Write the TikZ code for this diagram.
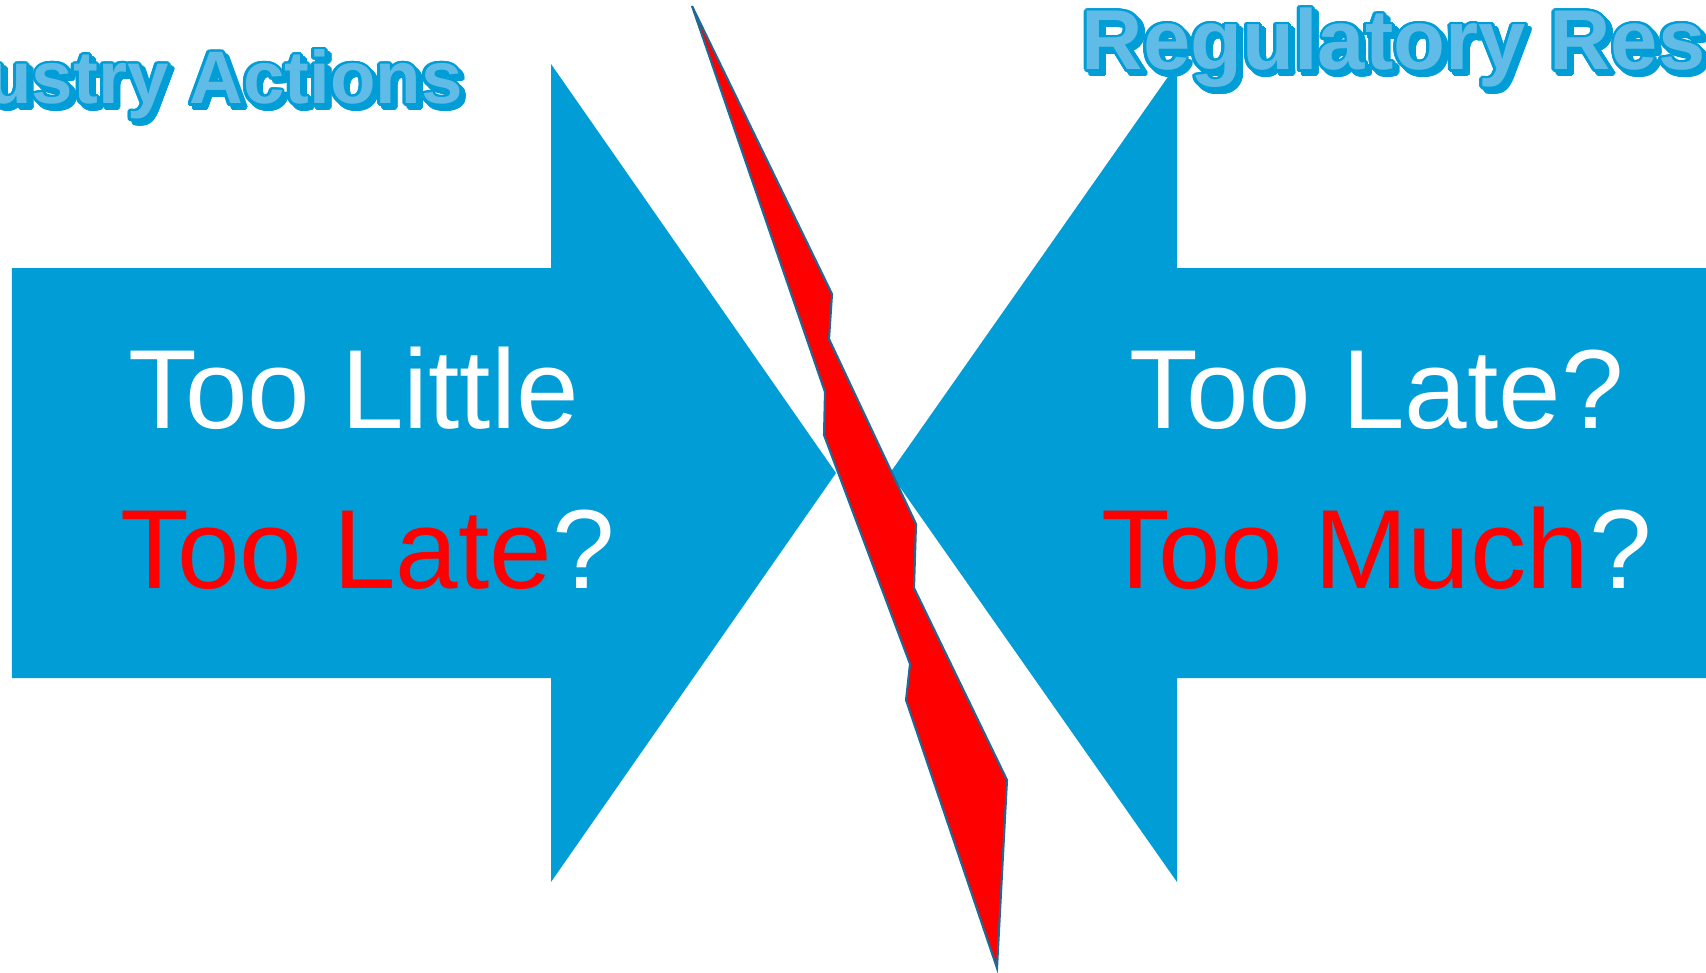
\documentclass[tikz,border=0pt]{standalone}
\usepackage{fontspec}
\setmainfont{Liberation Sans}
\usepackage{contour}
\contourlength{0.8pt}
\contournumber{24}

\definecolor{arrowblue}{RGB}{0,157,214}
\definecolor{titlefill}{RGB}{96,188,230}
\definecolor{boltedge}{RGB}{31,105,150}

\begin{document}
\begin{tikzpicture}[
  arrowshape/.style={fill=arrowblue,draw=none},
  bolt/.style={fill=red,draw=boltedge,line width=0.6pt,line join=miter},
  txt/.style={anchor=base west,inner sep=0pt,text=white,
              font=\fontsize{32}{38}\selectfont},
  ttl/.style={anchor=base west,inner sep=0pt,text=titlefill},
  shadow/.style={anchor=base west,inner sep=0pt,text=arrowblue},
]
  \useasboundingbox (0,0) rectangle (17.06,9.72);
  \clip (0,0) rectangle (17.06,9.72);

  % Left arrow (pointing right)
  \fill[arrowshape] (0.12,7.04) -- (5.51,7.04) -- (5.51,9.08) -- (8.36,4.99)
    -- (5.51,0.90) -- (5.51,2.94) -- (0.12,2.94) -- cycle;

  % Right arrow (pointing left)
  \fill[arrowshape] (17.20,7.04) -- (11.77,7.04) -- (11.77,9.08) -- (8.90,4.99)
    -- (11.77,0.90) -- (11.77,2.94) -- (17.20,2.94) -- cycle;

  % Titles with shadow and outline
  \node[shadow,font=\bfseries\fontsize{21.2}{25}\selectfont] (indshadow) at (-1.22,8.64)
    {\contour{arrowblue}{Industry Actions}};
  \node[ttl,font=\bfseries\fontsize{21.2}{25}\selectfont] (ind) at (-1.26,8.68)
    {\contour{arrowblue}{Industry Actions}};
  \node[shadow,font=\bfseries\fontsize{24.2}{29}\selectfont] (regshadow) at (10.85,8.98)
    {\contour{arrowblue}{Regulatory Response}};
  \node[ttl,font=\bfseries\fontsize{24.2}{29}\selectfont] (reg) at (10.81,9.02)
    {\contour{arrowblue}{Regulatory Response}};

  % Lightning bolt
  \filldraw[bolt] (6.92,9.66) -- (8.32,6.78) -- (8.29,6.33) -- (9.16,4.48)
    -- (9.14,3.84) -- (10.07,1.92) -- (9.97,0.04) -- (9.06,2.72)
    -- (9.10,3.08) -- (8.24,5.37) -- (8.25,5.80) -- cycle;

  % Arrow texts
  \node[txt] (little) at (1.28,5.44) {Too Little};
  \node[txt] (latel)  at (1.20,3.84) {\textcolor{red}{Too Late}?};
  \node[txt] (later)  at (11.29,5.44) {Too Late?};
  \node[txt] (much)   at (11.01,3.84) {\textcolor{red}{Too Much}?};
\end{tikzpicture}
\end{document}
